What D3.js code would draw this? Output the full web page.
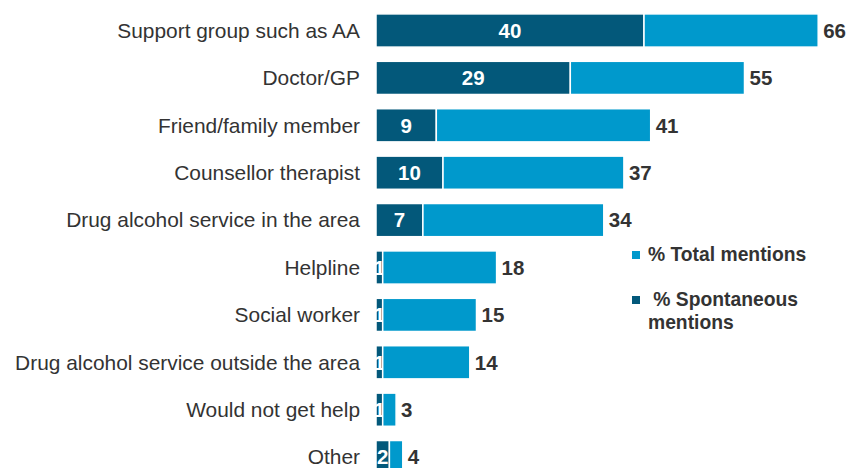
<!DOCTYPE html>
<html>
<head>
<meta charset="utf-8">
<script src="https://cdn.jsdelivr.net/npm/d3@7"></script>
<style>
  body { margin: 0; background: #ffffff; }
  svg { display: block; font-family: "Liberation Sans", Arial, sans-serif; }
</style>
</head>
<body>
<svg id="chart" width="846" height="468"></svg>
<script>
// Where people would go for help with a drinking problem
const categories = [
  "Support group such as AA",
  "Doctor/GP",
  "Friend/family member",
  "Counsellor therapist",
  "Drug alcohol service in the area",
  "Helpline",
  "Social worker",
  "Drug alcohol service outside the area",
  "Would not get help",
  "Other"
];
const spontaneous = [40, 29, 9, 10, 7, 1, 1, 1, 1, 2];
const totalMentions = [66, 55, 41, 37, 34, 18, 15, 14, 3, 4];
const seriesNames = ["% Total mentions", " % Spontaneous", "mentions"];

const darkBlue = "#03587a";
const lightBlue = "#0099cc";
const textGrey = "#333333";

const svg = d3.select("#chart");

const x = d3.scaleLinear().domain([0, 70]).range([376, 845]);
const y = d3.scaleBand()
  .domain(categories)
  .range([6.8, 480.8])
  .paddingInner(0.3)
  .paddingOuter(0.15);

const rows = categories.map((c, i) => ({
  cat: c, spon: spontaneous[i], total: totalMentions[i]
}));

// Category labels, right-aligned against the bars
svg.append("g")
  .selectAll("text")
  .data(rows)
  .join("text")
  .attr("x", 360)
  .attr("y", d => y(d.cat) + y.bandwidth() / 2)
  .attr("dy", "0.35em")
  .attr("text-anchor", "end")
  .attr("font-size", 20.9)
  .attr("fill", textGrey)
  .text(d => d.cat);

// Spontaneous mentions segment
svg.append("g")
  .selectAll("rect")
  .data(rows)
  .join("rect")
  .attr("x", x(0))
  .attr("y", d => y(d.cat))
  .attr("width", d => x(d.spon) - x(0))
  .attr("height", y.bandwidth())
  .attr("fill", darkBlue)
  .attr("stroke", "#ffffff")
  .attr("stroke-width", 1.5);

svg.append("g")
  .selectAll("text")
  .data(rows)
  .join("text")
  .attr("x", d => (x(0) + x(d.spon)) / 2)
  .attr("y", d => y(d.cat) + y.bandwidth() / 2)
  .attr("dy", "0.36em")
  .attr("text-anchor", "middle")
  .attr("font-size", 20.5)
  .attr("font-weight", "bold")
  .attr("fill", "#ffffff")
  .text(d => d.spon);

// Remaining total mentions stacked after the spontaneous share
svg.append("g")
  .selectAll("rect")
  .data(rows)
  .join("rect")
  .attr("x", d => x(d.spon))
  .attr("y", d => y(d.cat))
  .attr("width", d => x(d.total) - x(d.spon))
  .attr("height", y.bandwidth())
  .attr("fill", lightBlue)
  .attr("stroke", "#ffffff")
  .attr("stroke-width", 1.5);

// Total value at the end of each bar
svg.append("g")
  .selectAll("text")
  .data(rows)
  .join("text")
  .attr("x", d => x(d.total) + 5)
  .attr("y", d => y(d.cat) + y.bandwidth() / 2)
  .attr("dy", "0.36em")
  .attr("font-size", 20.5)
  .attr("font-weight", "bold")
  .attr("fill", textGrey)
  .text(d => d.total);

// Legend
const legend = svg.append("g");
legend.append("rect")
  .attr("x", 632).attr("y", 251).attr("width", 8).attr("height", 8)
  .attr("fill", lightBlue);
legend.append("text")
  .attr("x", 648).attr("y", 254).attr("dy", "0.35em")
  .attr("font-size", 19.3).attr("font-weight", "bold").attr("fill", textGrey)
  .text(seriesNames[0]);
legend.append("rect")
  .attr("x", 632).attr("y", 296).attr("width", 8).attr("height", 8)
  .attr("fill", darkBlue);
legend.append("text")
  .attr("x", 648).attr("y", 299.5).attr("dy", "0.35em")
  .attr("font-size", 19.3).attr("font-weight", "bold").attr("fill", textGrey)
  .style("white-space", "pre")
  .text(seriesNames[1]);
legend.append("text")
  .attr("x", 648).attr("y", 322).attr("dy", "0.35em")
  .attr("font-size", 19.3).attr("font-weight", "bold").attr("fill", textGrey)
  .text(seriesNames[2]);
</script>
</body>
</html>
